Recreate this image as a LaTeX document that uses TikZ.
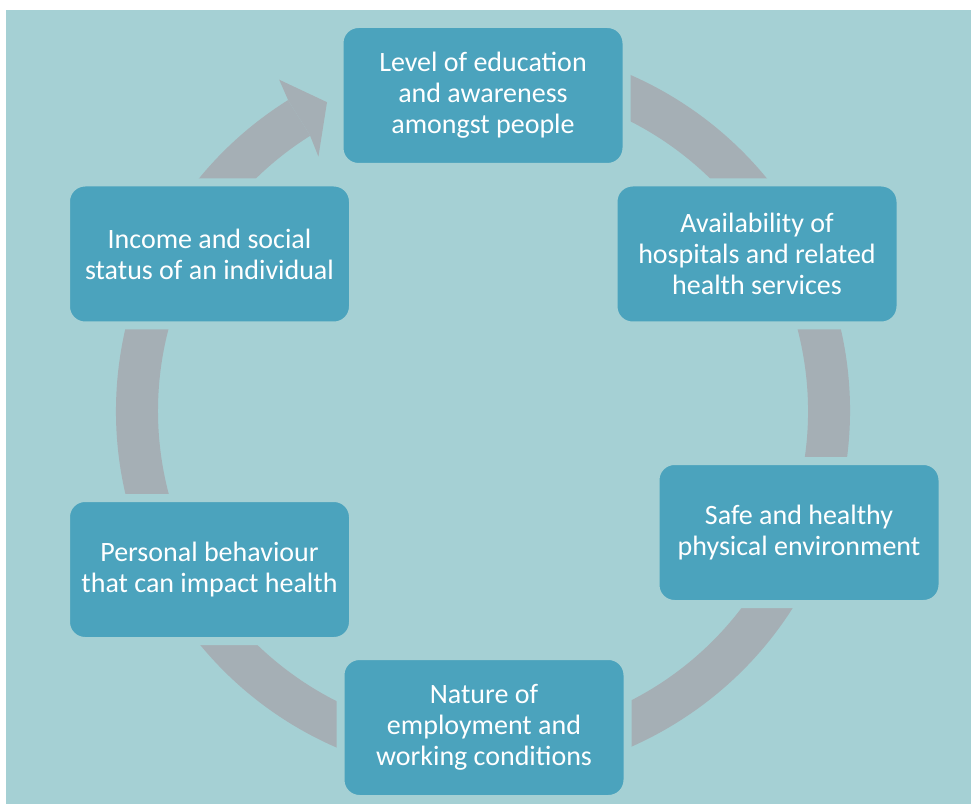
\documentclass[tikz,border=0pt]{standalone}
\usepackage{fontspec}
\setmainfont{Carlito}
\usetikzlibrary{calc}
\definecolor{bgc}{RGB}{165,208,212}
\definecolor{boxc}{RGB}{75,163,189}
\definecolor{ringc}{RGB}{165,175,181}
\tikzset{
  stagebox/.style={shape=rectangle, fill=boxc, draw=bgc, line width=8pt,
    rounded corners=19pt, minimum width=287pt, minimum height=143pt,
    inner sep=0pt, align=center, text=white,
    font=\fontsize{28}{31}\selectfont},
  ringfill/.style={fill=ringc}
}
\begin{document}
\begin{tikzpicture}[x=1pt,y=1pt]
\useasboundingbox (0,0) rectangle (971,804);
\fill[bgc] (6,0) rectangle (971,794);
\coordinate (c) at (483,393);
% ring body
\fill[ringfill] ($(c)+(122.1:367)$) arc[start angle=122.1, end angle=460, radius=367]
  -- ($(c)+(460:325)$) arc[start angle=460, end angle=122.1, radius=325] -- cycle;
% arrow head
\fill[ringfill] ($(c)+(122.1:366)$) -- ($(c)+(121.6:389)$) -- ($(c)+(116.8:346)$)
  -- ($(c)+(122.9:303)$) -- ($(c)+(122.1:326)$) -- cycle;
% stages
\node[stagebox] (s1) at (483,708.5) {Level of education\\and awareness\\amongst people};
\node[stagebox] (s2) at (757,550) {Availability of\\hospitals and related\\health services};
\node[stagebox] (s3) at (799,271.5) {Safe and healthy\\physical environment};
\node[stagebox] (s4) at (484,76.5) {Nature of\\employment and\\working conditions};
\node[stagebox] (s5) at (209.5,234.5) {Personal behaviour\\that can impact health};
\node[stagebox] (s6) at (209.5,550) {Income and social\\status of an individual};
\end{tikzpicture}
\end{document}
